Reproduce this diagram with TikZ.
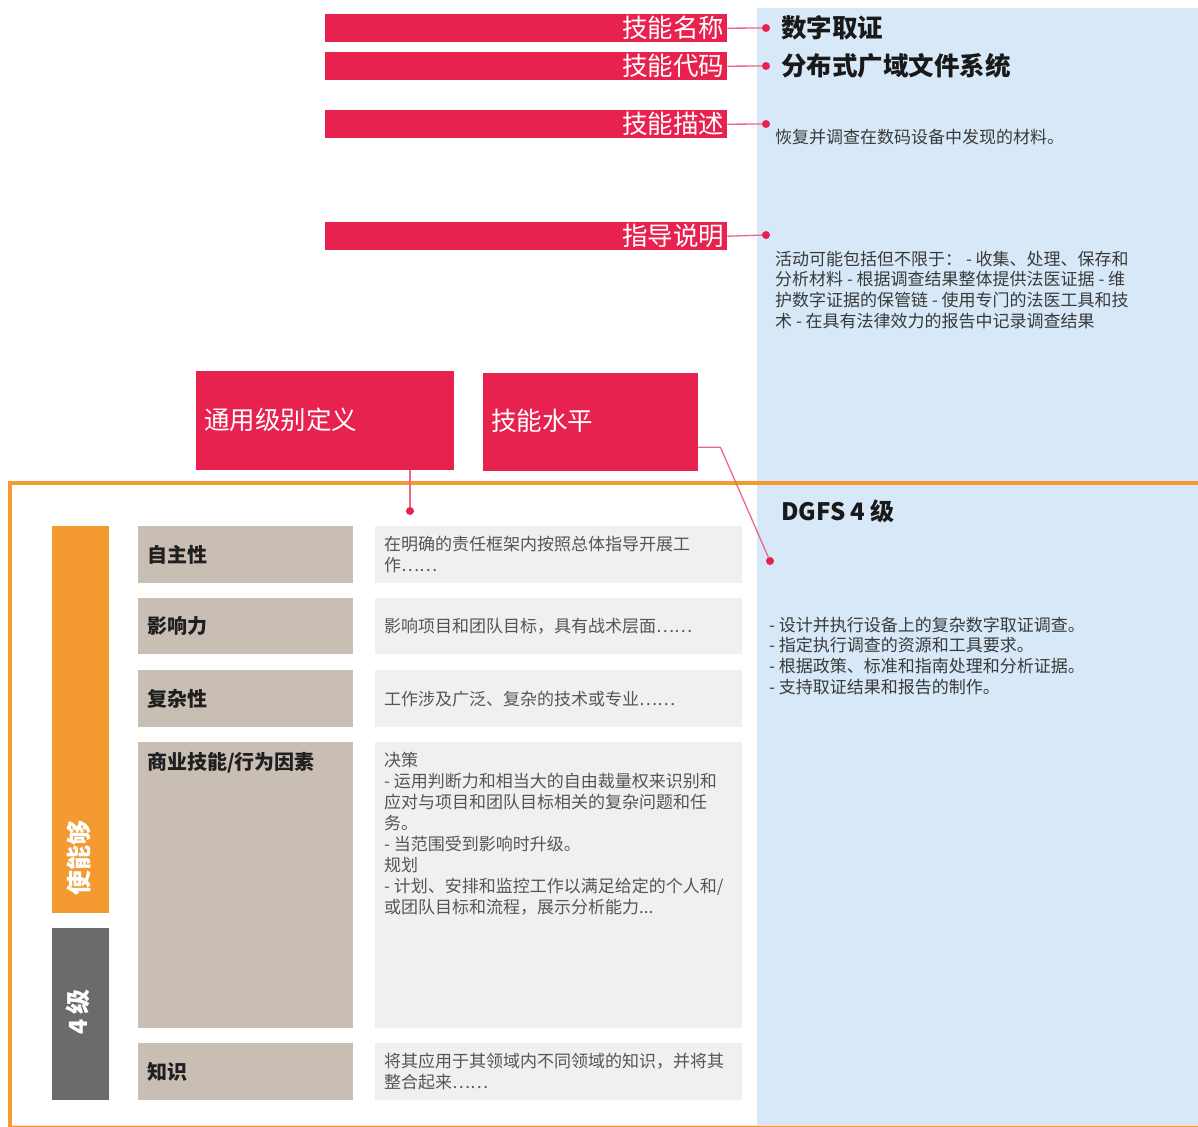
\documentclass[tikz,border=0pt]{standalone}
\usepackage{fontspec}
\setmainfont{Noto Sans CJK SC}
\definecolor{skred}{HTML}{E8224F}
\definecolor{skline}{HTML}{EE6682}
\definecolor{skorange}{HTML}{F39B30}
\definecolor{skbeige}{HTML}{C9BEB4}
\definecolor{skgray}{HTML}{F0F0F0}
\definecolor{skdark}{HTML}{6B6B6B}
\definecolor{skblue}{HTML}{D7E9F8}
\definecolor{sktext}{HTML}{555555}
\definecolor{skpanel}{HTML}{3A3A3A}
\tikzset{
  redbar/.style={fill=skred, draw=none, inner sep=0pt, anchor=north west},
  bartext/.style={text=white, font=\fontsize{25.5}{28}\selectfont, inner sep=0pt, anchor=east},
  boxtext/.style={text=white, font=\fontsize{25.5}{28}\selectfont, inner sep=0pt, anchor=west},
  conn/.style={draw=skline, line width=1.3pt},
  pin/.style={circle, fill=skred, draw=none, inner sep=0pt, minimum size=8pt},
  titletext/.style={text=black!90, font=\bfseries\fontsize{25.5}{28}\selectfont, inner sep=0pt, anchor=west},
  paneltext/.style={text=skpanel, font=\fontsize{17}{20.8}\selectfont, inner sep=0pt, align=left},
  labbox/.style={fill=skbeige, draw=none, anchor=north west, text width=197pt, inner xsep=9pt, inner ysep=0pt, align=left, text=black!88, font=\bfseries\fontsize{20}{24}\selectfont},
  descbox/.style={fill=skgray, draw=none, anchor=north west, text width=349pt, inner xsep=9pt, inner ysep=0pt, align=left, text=sktext, font=\fontsize{17}{21}\selectfont},
  sidebar/.style={draw=none, inner sep=0pt, anchor=north west, minimum width=57pt},
  sidetext/.style={text=white, rotate=90, inner sep=0pt, font=\bfseries\fontsize{25}{28}\selectfont},
}
\begin{document}
\begin{tikzpicture}[x=1pt,y=-1pt]
\useasboundingbox (0,0) rectangle (1198,1126);
\fill[white] (0,0) rectangle (1198,1126);
% blue panel
\fill[skblue] (757,8) rectangle (1198,1126);

% top red bars
\node[redbar, minimum width=402pt, minimum height=28pt] (bname) at (325,14) {};
\node[bartext] (tname) at ([xshift=-3pt]bname.east) {技能名称};
\node[redbar, minimum width=402pt, minimum height=28pt] (bcode) at (325,52) {};
\node[bartext] (tcode) at ([xshift=-3pt]bcode.east) {技能代码};
\node[redbar, minimum width=402pt, minimum height=28pt] (bdesc) at (325,110) {};
\node[bartext] (tdesc) at ([xshift=-3pt]bdesc.east) {技能描述};
\node[redbar, minimum width=402pt, minimum height=28pt] (bguide) at (325,222) {};
\node[bartext] (tguide) at ([xshift=-3pt]bguide.east) {指导说明};

\node[pin] (pname) at (766,28) {};
\node[pin] (pcode) at (766,66) {};
\node[pin] (pdesc) at (766,124) {};
\node[pin] (pguide) at (766,235) {};
\draw[conn] (bname.east) -- (pname);
\draw[conn] (bcode.east) -- (pcode);
\draw[conn] (bdesc.east) -- (pdesc);
\draw[conn] (bguide.east) -- (pguide);

\node[titletext] (vname) at (781,28) {数字取证};
\node[titletext] (vcode) at (781,66) {分布式广域文件系统};
\node[paneltext, anchor=west] (vdesc) at (775,137) {恢复并调查在数码设备中发现的材料。};
\node[paneltext, anchor=north west] (vguide) at (775,250.5) {活动可能包括但不限于： - 收集、处理、保存和\\分析材料 - 根据调查结果整体提供法医证据 - 维\\护数字证据的保管链 - 使用专门的法医工具和技\\术 - 在具有法律效力的报告中记录调查结果};

% middle red boxes
\node[redbar, minimum width=258pt, minimum height=99pt] (bgen) at (196,371) {};
\node[boxtext] (tgen) at (204,420) {通用级别定义};
\node[redbar, minimum width=215pt, minimum height=98pt] (blvl) at (483,373) {};
\node[boxtext] (tlvl) at (491,421) {技能水平};

% orange frame
\draw[skorange, line width=3.5pt] (1198,483) -- (10,483) -- (10,1128) -- (1198,1128);
\draw[skorange!30, line width=1pt] (12,1125.5) -- (1198,1125.5);

\node[pin] (pgen) at (410,511) {};
\node[pin] (plvl) at (770,561) {};
\draw[conn] (pgen |- bgen.south) -- (pgen);
\draw[conn] ([yshift=-25pt]blvl.east) -- ++(22,0) -- (plvl);

% level title and bullets
\node[titletext, font=\bfseries\fontsize{24}{28}\selectfont] (vlevel) at (781,511) {DGFS 4 级};
\node[paneltext, anchor=north west] (vbullets) at (769,616.5) {- 设计并执行设备上的复杂数字取证调查。\\- 指定执行调查的资源和工具要求。\\- 根据政策、标准和指南处理和分析证据。\\- 支持取证结果和报告的制作。};

% side bars
\node[sidebar, fill=skorange, minimum height=387pt] (benable) at (52,526) {};
\node[sidetext] (tenable) at (79,858) {使能够};
\node[sidebar, fill=skdark, minimum height=172pt] (bgrade) at (52,928) {};
\node[sidetext] (tgrade) at (78,1012) {4 级};

% rows
\node[labbox, minimum height=57pt] (lauto) at (138,526) {自主性};
\node[descbox, minimum height=57pt] (dauto) at (375,526) {在明确的责任框架内按照总体指导开展工\\作……};
\node[labbox, minimum height=56pt] (linfl) at (138,598) {影响力};
\node[descbox, minimum height=56pt] (dinfl) at (375,598) {影响项目和团队目标，具有战术层面……};
\node[labbox, minimum height=57pt] (lcplx) at (138,670) {复杂性};
\node[descbox, minimum height=57pt] (dcplx) at (375,670) {工作涉及广泛、复杂的技术或专业……};
\node[labbox, minimum height=286pt] (lbiz) at (138,742) {};
\node[inner sep=0pt, anchor=west, text=black!88, font=\bfseries\fontsize{20}{24}\selectfont] (tbizl) at (147,763) {商业技能/行为因素};
\node[descbox, minimum height=286pt] (dbiz) at (375,742) {};
\node[inner sep=0pt, anchor=north west, align=left, text=sktext, font=\fontsize{17}{21}\selectfont] (tbizd) at (384,751.5) {决策\\- 运用判断力和相当大的自由裁量权来识别和\\应对与项目和团队目标相关的复杂问题和任\\务。\\- 当范围受到影响时升级。\\规划\\- 计划、安排和监控工作以满足给定的个人和/\\或团队目标和流程，展示分析能力...};
\node[labbox, minimum height=57pt] (lknow) at (138,1043) {知识};
\node[descbox, minimum height=57pt] (dknow) at (375,1043) {将其应用于其领域内不同领域的知识，并将其\\整合起来……};
\end{tikzpicture}
\end{document}
